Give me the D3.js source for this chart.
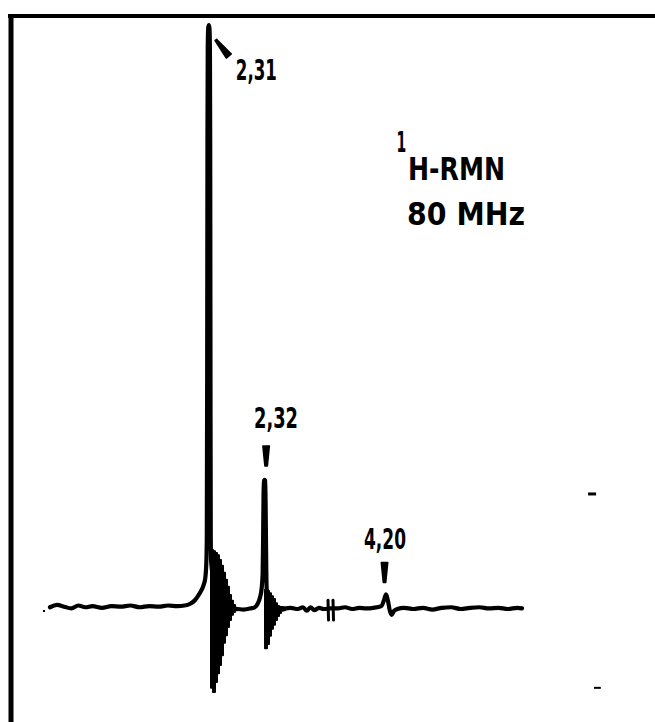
<!DOCTYPE html>
<html>
<head>
<meta charset="utf-8">
<script src="https://cdn.jsdelivr.net/npm/d3@7/dist/d3.min.js"></script>
<style>
  html, body { margin: 0; padding: 0; background: #fff; }
  svg { display: block; }
  text { font-family: "DejaVu Sans", sans-serif; font-weight: bold; fill: #000; }
</style>
</head>
<body>
<svg id="chart" width="655" height="722"></svg>
<script>
// ---- 1H-NMR trace, 80 MHz (position along the sweep 0..100, intensity 0..100) ----
const trace = [
  [0, 0.3], [1.5, 0.7], [3, 0.4], [4.5, 0.1], [6, 0.6], [7.5, 0.3], [9, 0.5], [11, 0.2],
  [13, 0.5], [15, 0.4], [17, 0.6], [19, 0.3], [21, 0.5], [23, 0.4], [25, 0.6], [27, 0.5],
  [28.5, 0.6], [29.7, 0.9], [30.7, 1.5], [31.4, 2.3], [32.0, 3.1], [32.5, 4.0], [32.9, 5.3],
  [33.1, 7.5], [33.22, 12], [33.3, 40], [33.36, 80], [33.42, 96], [33.52, 99.5], [33.65, 100],
  [33.78, 99.5], [33.88, 96], [33.94, 80], [34.0, 40], [34.06, 12], [34.15, 8],
  [36, 0], [39.6, 0], [41, -0.1], [42.5, 0.1], [43.4, 0.3], [44.0, 0.9], [44.5, 2.0],
  [44.85, 3.6], [45.05, 6], [45.15, 12], [45.25, 20], [45.36, 22], [45.47, 22.1],
  [45.58, 22], [45.68, 18], [45.78, 10], [45.9, 3.5], [47, 0.5], [49.8, 0.1], [51, 0.2],
  [52.5, 0.0], [53.6, 0.3], [54.4, -0.3], [55.2, 0.3], [56, -0.2], [57, 0.2], [58, 0.0],
  [59.4, 0.1], [61, 0.1], [62.5, 0.3], [64, 0.0], [65.5, 0.2], [67, 0.1], [68.5, 0.2],
  [70.2, 0.5], [70.8, 1.6], [71.19, 2.5], [71.6, 1.4], [72.0, -0.3], [72.4, -1.0],
  [72.9, -0.3], [73.6, 0.0], [75, 0.2], [77, 0.0], [79, 0.2], [81, -0.1], [83, 0.2],
  [85, 0.3], [87, 0.0], [89, 0.2], [91, 0.3], [93, 0.1], [95, 0.2], [97, 0.0], [99, 0.2],
  [100, 0.1]
];

// ringing (wiggle) envelopes after the two strong lines
const ringPos1   = [34.11, 34.53, 34.96, 35.38, 35.81, 36.23, 36.65, 37.08, 37.5, 37.92, 38.35, 38.77, 39.19, 39.62];
const ringUpper1 = [10.1, 9.9, 9.6, 9.2, 8.4, 7.4, 6.2, 5.0, 3.8, 2.4, 1.4, 0.7, 0.2, 0];
const ringLower1 = [-13.5, -14.2, -12.5, -11.0, -9.6, -7.9, -5.8, -4.5, -3.1, -1.9, -1.0, -0.5, -0.2, 0];

const ringPos2   = [45.55, 45.97, 46.4, 46.82, 47.25, 47.67, 48.09, 48.52, 48.94, 49.36, 49.79];
const ringUpper2 = [3.3, 3.1, 2.7, 2.2, 1.7, 1.0, 0.5, 0.2, 0, 0, 0];
const ringLower2 = [-6.7, -6.0, -4.6, -3.4, -2.7, -1.9, -1.2, -0.7, -0.3, -0.2, 0];

// labelled signals
const peakLabels    = ["2,31", "2,32", "4,20"];
const peakPositions = [33.65, 45.47, 71.19];
const peakHeights   = [100, 22.1, 2.5];

// axis break on the baseline
const breakPositions = [58.9, 59.96];

// small pen marks on the chart paper: [from, to, intensity]
const penMarks = [[-1.48, -1.06, -0.34], [114.0, 115.7, 19.7], [115.25, 116.7, -13.5]];

// header text
const isotope = "1";
const titleLines = ["H-RMN", "80 MHz"];

// ---- drawing ----
const svg = d3.select("#chart");
const x = d3.scaleLinear().domain([0, 100]).range([50, 522]);
const y = d3.scaleLinear().domain([0, 100]).range([609, 25]);

// chart paper frame (top and left edges)
svg.append("line").attr("x1", 8).attr("x2", 655).attr("y1", 16).attr("y2", 16)
  .attr("stroke", "#000").attr("stroke-width", 4);
svg.append("line").attr("x1", 11).attr("x2", 11).attr("y1", 14).attr("y2", 722)
  .attr("stroke", "#000").attr("stroke-width", 5);

// ringing areas
const ringArea = d3.area()
  .x(d => x(d.p)).y0(d => y(d.lo)).y1(d => y(d.hi))
  .curve(d3.curveStepAfter);
[[ringPos1, ringUpper1, ringLower1], [ringPos2, ringUpper2, ringLower2]].forEach(([ps, hs, ls]) => {
  const rows = ps.map((p, i) => ({ p, hi: hs[i], lo: ls[i] }));
  svg.append("path").attr("d", ringArea(rows))
    .attr("fill", "#000").attr("stroke", "#000").attr("stroke-width", 2)
    .attr("stroke-linejoin", "round");
});

// spectrum trace
const line = d3.line().x(d => x(d[0])).y(d => y(d[1])).curve(d3.curveMonotoneX);
svg.append("path").attr("d", line(trace))
  .attr("fill", "none").attr("stroke", "#000").attr("stroke-width", 4.2)
  .attr("stroke-linejoin", "round").attr("stroke-linecap", "round");

// baseline break
breakPositions.forEach(p => {
  svg.append("line").attr("x1", x(p)).attr("x2", x(p) + 0.5)
    .attr("y1", y(1.5)).attr("y2", y(-1.9))
    .attr("stroke", "#000").attr("stroke-width", 3).attr("stroke-linecap", "round");
});

// pen marks
penMarks.forEach(([a, b, v], i) => {
  svg.append("line").attr("x1", x(a)).attr("x2", x(b)).attr("y1", y(v)).attr("y2", y(v))
    .attr("stroke", "#000").attr("stroke-width", i === 1 ? 3 : 2);
});

// tapered pointer: thin end (x1,y1) -> thick end (x2,y2)
function wedge(x1, y1, x2, y2, w1, w2) {
  const dx = x2 - x1, dy = y2 - y1, L = Math.hypot(dx, dy);
  const nx = -dy / L, ny = dx / L;
  const pts = [
    [x1 + nx * w1 / 2, y1 + ny * w1 / 2], [x2 + nx * w2 / 2, y2 + ny * w2 / 2],
    [x2 - nx * w2 / 2, y2 - ny * w2 / 2], [x1 - nx * w1 / 2, y1 - ny * w1 / 2]
  ];
  svg.append("path").attr("d", "M" + pts.map(p => p.join(",")).join("L") + "Z")
    .attr("fill", "#000").attr("stroke", "#000").attr("stroke-width", 1.5)
    .attr("stroke-linejoin", "round");
}

// label placement relative to each peak top (pointer thin end, thick end, text start/baseline, text width)
const labelLayout = [
  { p1: [7, 15], p2: [20, 31], w: [2, 6.5], t: [27, 55], len: 41 },
  { p1: [1.5, -14], p2: [1.5, -34], w: [2.5, 6.5], t: [-10.6, -52], len: 44 },
  { p1: [-1.5, -12], p2: [-1.5, -32], w: [2.5, 6.5], t: [-22, -45], len: 42 }
];
peakLabels.forEach((lab, i) => {
  const px = x(peakPositions[i]), py = y(peakHeights[i]), L = labelLayout[i];
  wedge(px + L.p1[0], py + L.p1[1], px + L.p2[0], py + L.p2[1], L.w[0], L.w[1]);
  svg.append("text").attr("x", px + L.t[0]).attr("y", py + L.t[1])
    .attr("font-size", 28).attr("textLength", L.len).attr("lengthAdjust", "spacingAndGlyphs")
    .text(lab);
});

// header: narrow superscript mass number, then nucleus / technique, then the field
svg.append("text").attr("transform", "translate(396.5,152) scale(0.5,1)")
  .attr("font-size", 28).text(isotope);
svg.append("text").attr("x", 408).attr("y", 180).attr("font-size", 31.5)
  .attr("textLength", 97).attr("lengthAdjust", "spacingAndGlyphs").text(titleLines[0]);
svg.append("text").attr("x", 407).attr("y", 225).attr("font-size", 31.5)
  .attr("textLength", 118).attr("lengthAdjust", "spacingAndGlyphs").text(titleLines[1]);
</script>
</body>
</html>
